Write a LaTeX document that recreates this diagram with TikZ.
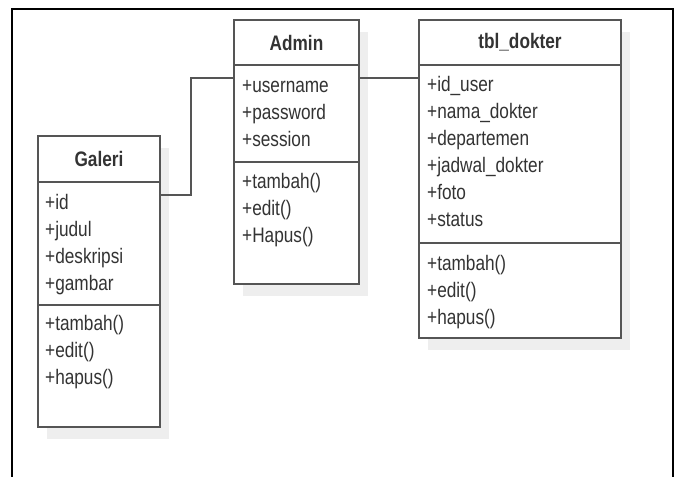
\documentclass[tikz,border=0pt]{standalone}
\usepackage{fontspec}
\setmainfont{Liberation Sans}[FakeStretch=0.82]
\usetikzlibrary{positioning,shadows,calc}

\definecolor{umlline}{HTML}{555555}
\definecolor{umltext}{HTML}{333333}
\definecolor{umlshade}{HTML}{EEEEEE}

\tikzset{
  classpart/.style={draw=umlline, line width=1.6pt, fill=white, inner sep=0pt, outer sep=0pt,
    drop shadow={shadow xshift=9pt, shadow yshift=-12pt, fill=umlshade, opacity=1}},
  classhead/.style={classpart, minimum height=45, text=umltext,
    font=\bfseries\fontsize{21}{25}\selectfont},
  members/.style={anchor=north west, inner sep=0pt, align=left, text=umltext,
    font=\fontsize{21}{27}\selectfont},
  link/.style={draw=umlline, line width=1.6pt},
}

\begin{document}
\begin{tikzpicture}[x=1pt, y=-1pt]

  \useasboundingbox (0,0) rectangle (681,477);

  % outer frame
  \draw[black, line width=1.8pt] (12,477) -- (12,9) -- (673,9) -- (673,477);

  % Galeri
  \node[classhead, minimum width=122, minimum height=46, anchor=north west] (galeri) at (38,136) {Galeri};
  \node[classpart, minimum width=122, minimum height=123, below=0pt of galeri] (galeri-attr) {};
  \node[classpart, minimum width=122, minimum height=122, below=0pt of galeri-attr] (galeri-ops) {};
  \node[members] (galeri-attr-txt) at ($(galeri-attr.north west)+(7,8)$) {\strut+id\\+judul\\+deskripsi\\+gambar};
  \node[members] (galeri-ops-txt) at ($(galeri-ops.north west)+(7,6)$) {\strut+tambah()\\+edit()\\+hapus()};

  % Admin
  \node[classhead, minimum width=125, anchor=north west] (admin) at (234,20) {Admin};
  \node[classpart, minimum width=125, minimum height=97, below=0pt of admin] (admin-attr) {};
  \node[classpart, minimum width=125, minimum height=122, below=0pt of admin-attr] (admin-ops) {};
  \node[members] (admin-attr-txt) at ($(admin-attr.north west)+(8,8)$) {\strut+username\\+password\\+session};
  \node[members] (admin-ops-txt) at ($(admin-ops.north west)+(8,7)$) {\strut+tambah()\\+edit()\\+Hapus()};

  % tbl_dokter
  \node[classhead, minimum width=202, anchor=north west] (dokter) at (419,20) {tbl\_dokter};
  \node[classpart, minimum width=202, minimum height=178, below=0pt of dokter] (dokter-attr) {};
  \node[classpart, minimum width=202, minimum height=95, below=0pt of dokter-attr] (dokter-ops) {};
  \node[members] (dokter-attr-txt) at ($(dokter-attr.north west)+(8,7)$) {\strut+id\_user\\+nama\_dokter\\+departemen\\+jadwal\_dokter\\+foto\\+status};
  \node[members] (dokter-ops-txt) at ($(dokter-ops.north west)+(8,8)$) {\strut+tambah()\\+edit()\\+hapus()};

  % ports
  \coordinate (galeri-port) at ($(galeri.north east)+(0,59)$);
  \coordinate (admin-in) at ($(admin.north west)+(0,58)$);
  \coordinate (admin-out) at ($(admin.north east)+(0,58)$);
  \coordinate (dokter-in) at ($(dokter.north west)+(0,58)$);

  % Connect the classes
  \draw[link] (galeri-port) -- ++(31,0) |- (admin-in);
  \draw[link] (admin-out) -- (dokter-in);

\end{tikzpicture}
\end{document}
